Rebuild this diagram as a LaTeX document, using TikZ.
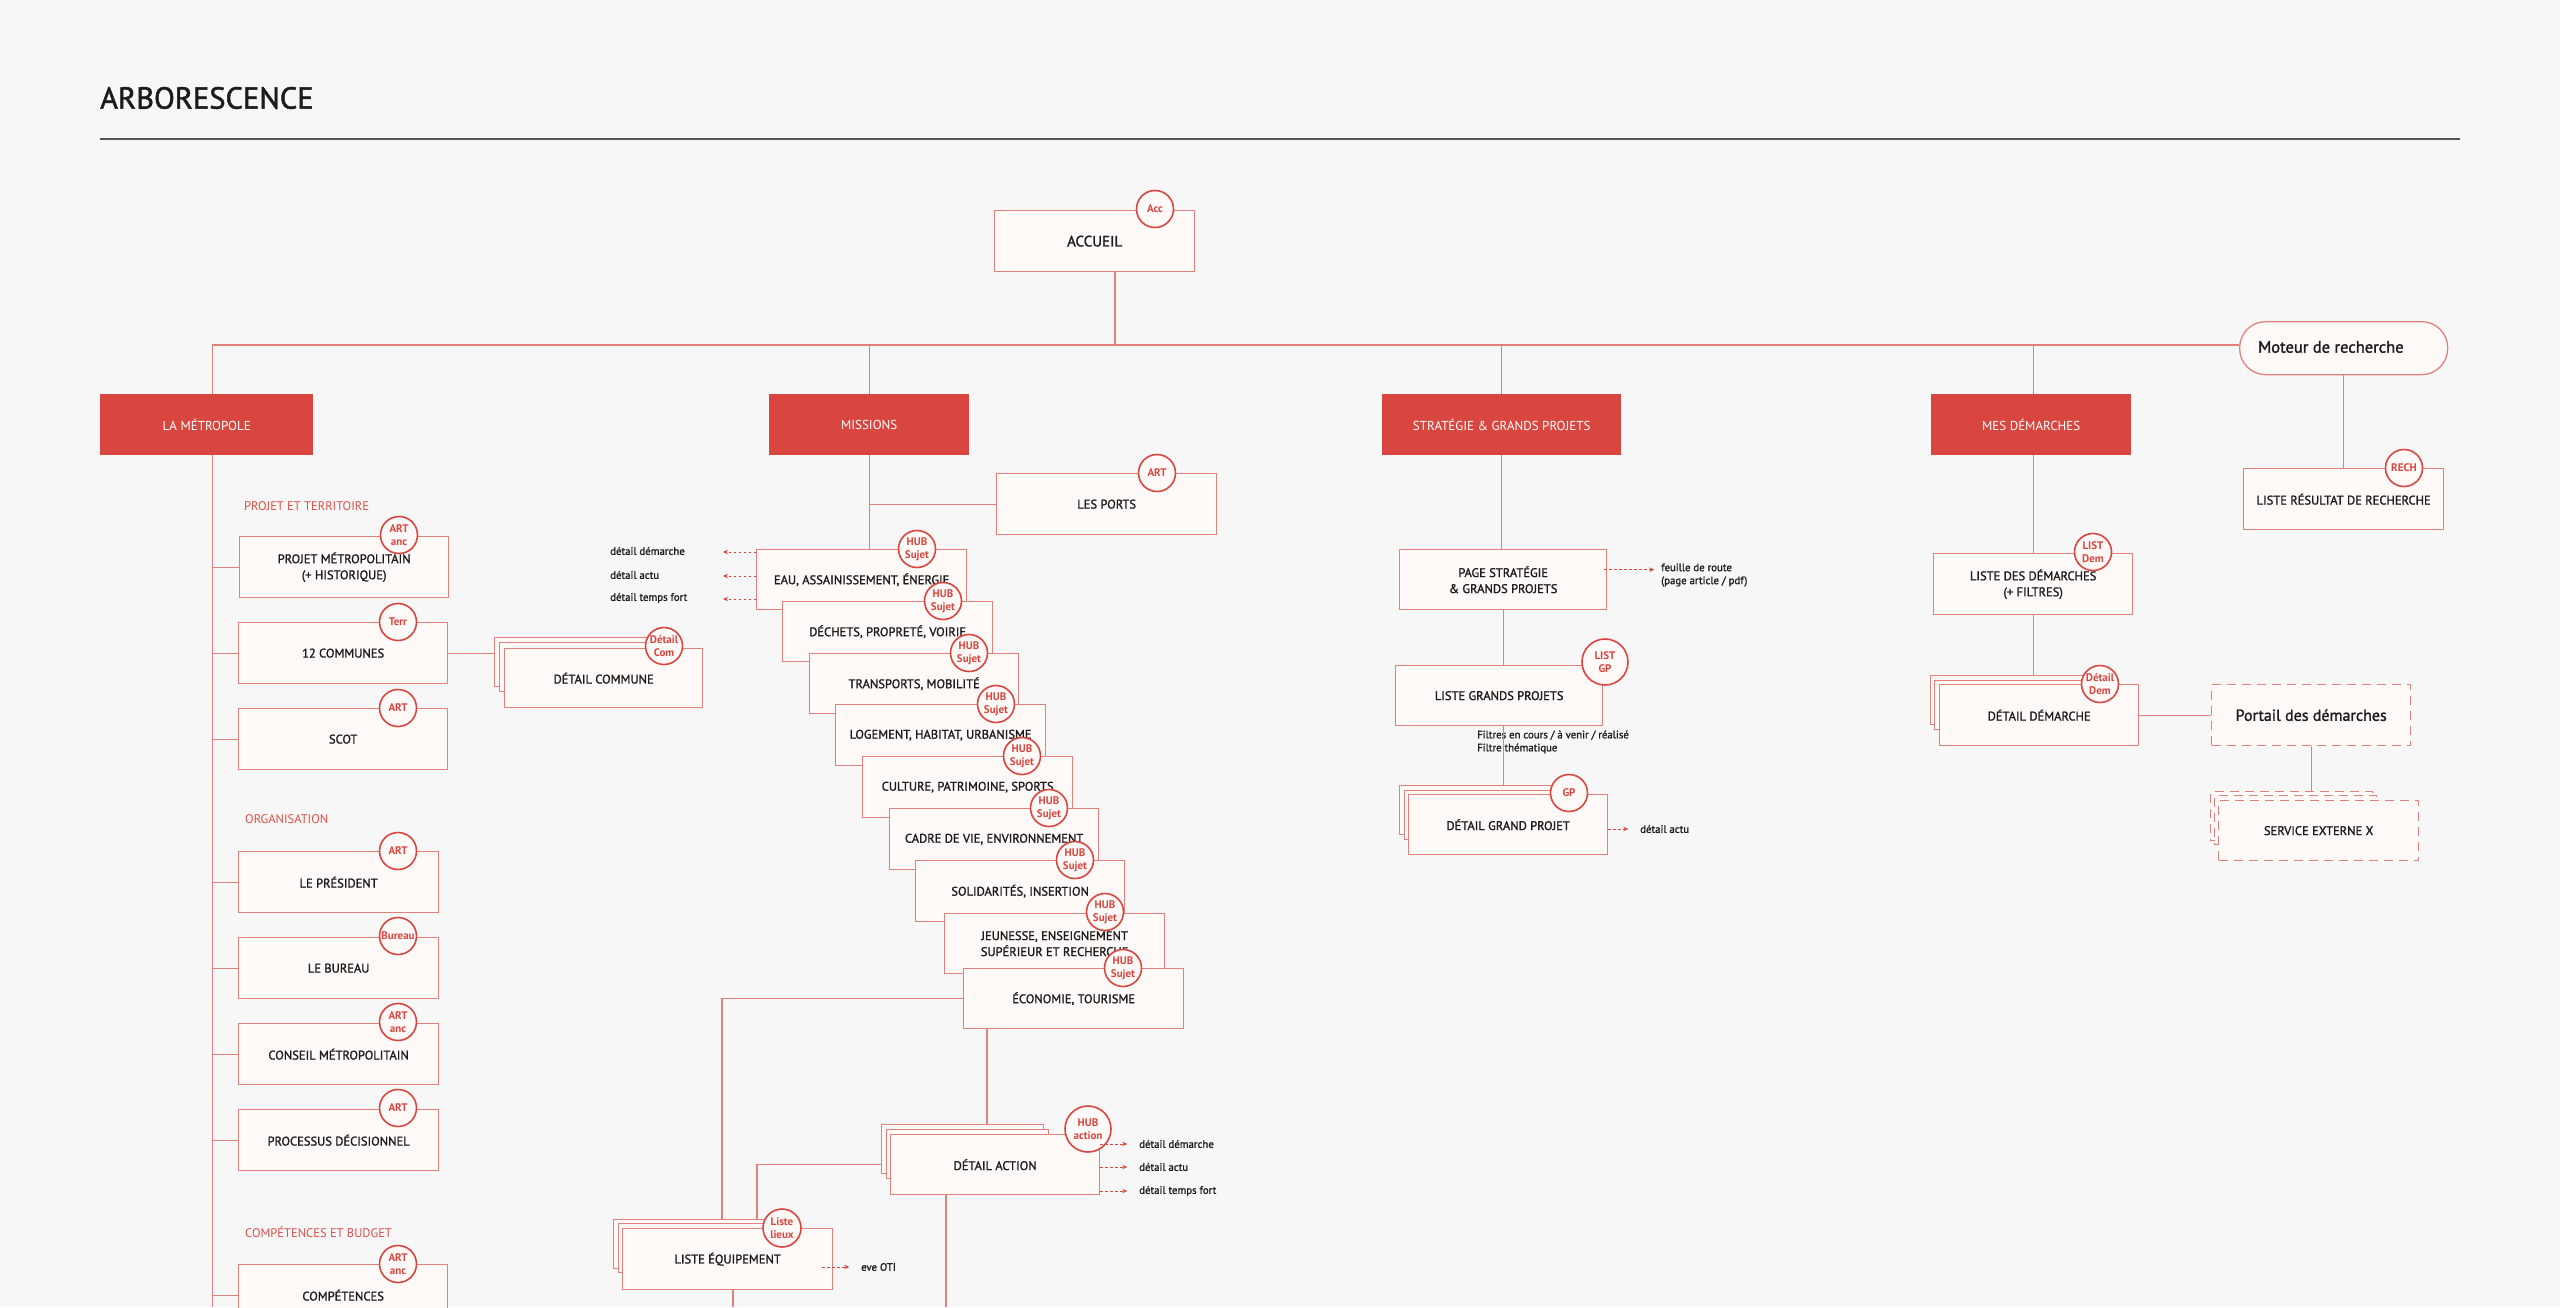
\documentclass[tikz,border=0pt]{standalone}
\usepackage{fontspec}
\setmainfont{PT Sans}
\newfontfamily\medf[FakeBold=1.4]{PT Sans}
\newfontfamily\medt[FakeBold=1.6]{PT Sans}
\usetikzlibrary{calc,arrows.meta}
\definecolor{bgc}{HTML}{F7F7F7}
\definecolor{hred}{HTML}{D9463F}
\definecolor{lred}{HTML}{E2807B}
\definecolor{bfill}{HTML}{FFF9F8}
\definecolor{sred}{HTML}{DF4F49}
\definecolor{ink}{HTML}{1C1C1C}
\definecolor{rulegray}{HTML}{555555}
\newcommand{\fsz}[2]{\fontsize{#1}{#2}\selectfont}
\begin{document}
\begin{tikzpicture}[x=1pt,y=-1pt,
  pbox/.style={draw=lred, fill=bfill, line width=1.3pt, inner sep=1pt, align=center, text=ink, font=\medf\fsz{12.5}{16}, anchor=north west},
  bbox/.style={draw=lred, fill=bfill, line width=1.1pt, inner sep=0pt, anchor=north west},
  dbox/.style={pbox, dash pattern=on 9pt off 6pt},
  dbbox/.style={bbox, dash pattern=on 9pt off 6pt},
  wh/.style 2 args={minimum width=#1, minimum height=#2},
  hbox/.style={fill=hred, text=white, font=\fsz{13}{15}, inner sep=0pt, anchor=north west},
  badgetxt/.style={align=center, text=hred, font=\fsz{11}{12.8}\bfseries, inner sep=0pt},
  badge/.style={circle, draw=hred, fill=bfill, line width=1.6pt, minimum size=37pt, inner sep=0pt, label={[badgetxt]center:#1}},
  conn/.style={draw=lred, line width=1.2pt},
  darrow/.style={draw=hred, line width=0.9pt, dash pattern=on 2.5pt off 2.5pt, -{Stealth[length=5pt,width=4.5pt]}},
  annot/.style={text=ink, font=\medf\fsz{10.8}{13}, inner sep=0pt, anchor=west, align=left},
  sec/.style={text=sred, font=\fsz{12.5}{15}, inner sep=0pt, anchor=west}
]
\fill[bgc] (0,0) rectangle (2560,1307);
\useasboundingbox (0,0) rectangle (2560,1307);

% title
\node[anchor=west, inner sep=0pt, text=ink, font=\medt\fsz{30.5}{36}] (title) at (100,98) {ARBORESCENCE};
\draw[rulegray, line width=1.6pt] (100,139) -- (2460,139);

% top level
\node[pbox, wh={200}{61}, font=\medf\fsz{15}{18}] (acc) at (994,210) {ACCUEIL};
\node[badge={Acc}] (accb) at (1155,209) {};

\node[hbox, wh={213}{61}] (metro) at (100,394) {LA MÉTROPOLE};
\node[hbox, wh={200}{61}] (missions) at (769,394) {MISSIONS};
\node[hbox, wh={239}{61}] (strat) at (1382,394) {STRATÉGIE \& GRANDS PROJETS};
\node[hbox, wh={200}{61}] (mesdem) at (1931,394) {MES DÉMARCHES};
\node[draw=lred, fill=bfill, line width=1.3pt, rounded corners=26pt, anchor=north west, wh={208}{53}, inner sep=0pt] (moteur) at (2239,321) {};
\node[anchor=west, inner sep=0pt, text=ink, font=\medt\fsz{16.5}{19}] (moteurtxt) at (2258,347) {Moteur de recherche};

% LA METROPOLE column
\node[sec] (sec1) at (244,506) {PROJET ET TERRITOIRE};
\node[pbox, wh={209}{61}] (pm) at (239,536) {PROJET MÉTROPOLITAIN\\(+ HISTORIQUE)};
\node[badge={ART\\anc}] (pmb) at (399,535) {};
\node[pbox, wh={209}{61}] (c12) at (238,622) {12 COMMUNES};
\node[badge={Terr}] (c12b) at (398,622) {};
\node[pbox, wh={209}{61}] (scot) at (238,708) {SCOT};
\node[badge={ART}] (scotb) at (398,708) {};

\node[sec] (sec2) at (245,819) {ORGANISATION};
\node[pbox, wh={200}{61}] (pres) at (238,851) {LE PRÉSIDENT};
\node[badge={ART}] (presb) at (398,851) {};
\node[pbox, wh={200}{61}] (bur) at (238,937) {LE BUREAU};
\node[badge={Bureau}] (burb) at (398,936) {};
\node[pbox, wh={200}{61}] (cons) at (238,1023) {CONSEIL MÉTROPOLITAIN};
\node[badge={ART\\anc}] (consb) at (398,1022) {};
\node[pbox, wh={200}{61}] (proc) at (238,1109) {PROCESSUS DÉCISIONNEL};
\node[badge={ART}] (procb) at (398,1108) {};

\node[sec] (sec3) at (245,1232) {COMPÉTENCES ET BUDGET};
\node[pbox, wh={209}{61}] (comp) at (238,1264) {COMPÉTENCES};
\node[badge={ART\\anc}] (compb) at (398,1264) {};

% detail commune stack
\node[bbox, wh={162}{49}] (dc1) at (494,637) {};
\node[bbox, wh={162}{49}] (dc2) at (499,642) {};
\node[pbox, wh={198}{59}] (dc) at (504,648) {DÉTAIL COMMUNE};
\node[badge={Détail\\Com}] (dcb) at (664,646) {};

% MISSIONS column
\node[pbox, wh={220}{61}] (ports) at (996,473) {LES PORTS};
\node[badge={ART}] (portsb) at (1157,473) {};

\node[pbox, wh={210}{60}] (eau) at (756,549) {EAU, ASSAINISSEMENT, ÉNERGIE};
\node[badge={HUB\\Sujet}] (eaub) at (917,549) {};
\node[pbox, wh={210}{60}] (dech) at (782,601) {DÉCHETS, PROPRETÉ, VOIRIE};
\node[badge={HUB\\Sujet}] (dechb) at (943,601) {};
\node[pbox, wh={209}{60}] (trans) at (809,653) {TRANSPORTS, MOBILITÉ};
\node[badge={HUB\\Sujet}] (transb) at (969,653) {};
\node[pbox, wh={210}{61}] (loge) at (835,704) {LOGEMENT, HABITAT, URBANISME};
\node[badge={HUB\\Sujet}] (logeb) at (996,704) {};
\node[pbox, wh={210}{61}] (cult) at (862,756) {CULTURE, PATRIMOINE, SPORTS};
\node[badge={HUB\\Sujet}] (cultb) at (1022,756) {};
\node[pbox, wh={209}{61}] (cadre) at (889,808) {CADRE DE VIE, ENVIRONNEMENT};
\node[badge={HUB\\Sujet}] (cadreb) at (1049,808) {};
\node[pbox, wh={209}{61}] (soli) at (915,860) {SOLIDARITÉS, INSERTION};
\node[badge={HUB\\Sujet}] (solib) at (1075,860) {};
\node[pbox, wh={220}{60}] (jeun) at (944,913) {JEUNESSE, ENSEIGNEMENT\\SUPÉRIEUR ET RECHERCHE};
\node[badge={HUB\\Sujet}] (jeunb) at (1105,912) {};
\node[pbox, wh={220}{60}] (econ) at (963,968) {ÉCONOMIE, TOURISME};
\node[badge={HUB\\Sujet}] (econb) at (1123,968) {};

\node[annot] (ea1) at (610,551) {détail démarche};
\node[annot] (ea2) at (610,575) {détail actu};
\node[annot] (ea3) at (610,598) {détail temps fort};

% detail action stack
\node[bbox, wh={162}{49}] (da1) at (881,1124) {};
\node[bbox, wh={162}{49}] (da2) at (886,1129) {};
\node[pbox, wh={209}{60}] (da) at (890,1134) {DÉTAIL ACTION};
\node[badge={HUB\\action}, minimum size=46pt] (dab) at (1088,1129) {};
\node[annot] (dat1) at (1139,1144) {détail démarche};
\node[annot] (dat2) at (1139,1167) {détail actu};
\node[annot] (dat3) at (1139,1191) {détail temps fort};

% liste equipement stack
\node[bbox, wh={162}{49}] (le1) at (613,1219) {};
\node[bbox, wh={162}{49}] (le2) at (618,1223) {};
\node[pbox, wh={210}{61}] (le) at (622,1228) {LISTE ÉQUIPEMENT};
\node[badge={Liste\\lieux}, minimum size=38pt] (leb) at (782,1228) {};
\node[annot] (oti) at (861,1267) {eve OTI};

% STRATEGIE column
\node[pbox, wh={207}{60}] (ps) at (1399,549) {PAGE STRATÉGIE\\\& GRANDS PROJETS};
\node[annot] (feuille) at (1661,575) {feuille de route\\(page article / pdf)};
\node[pbox, wh={207}{60}] (lgp) at (1395,665) {LISTE GRANDS PROJETS};
\node[badge={LIST\\GP}, minimum size=46pt] (lgpb) at (1605,662) {};
\node[annot] (filt) at (1477,742) {Filtres en cours / à venir / réalisé\\Filtre thématique};
\node[bbox, wh={162}{49}] (dgp1) at (1399,785) {};
\node[bbox, wh={162}{49}] (dgp2) at (1404,790) {};
\node[pbox, wh={199}{60}] (dgp) at (1408,794) {DÉTAIL GRAND PROJET};
\node[badge={GP}] (dgpb) at (1569,793) {};
\node[annot] (gpt) at (1640,829) {détail actu};

% MES DEMARCHES column
\node[pbox, wh={199}{61}] (ld) at (1933,553) {LISTE DES DÉMARCHES\\(+ FILTRES)};
\node[badge={LIST\\Dem}] (ldb) at (2093,552) {};
\node[bbox, wh={162}{49}] (dd1) at (1930,675) {};
\node[bbox, wh={162}{49}] (dd2) at (1934,680) {};
\node[pbox, wh={199}{61}] (dd) at (1939,684) {DÉTAIL DÉMARCHE};
\node[badge={Détail\\Dem}] (ddb) at (2100,684) {};
\node[dbox, wh={199}{61}, font=\medf\fsz{16}{18}] (portail) at (2211,684) {Portail des démarches};
\node[dbbox, wh={162}{49}] (se1) at (2210,791) {};
\node[dbbox, wh={162}{49}] (se2) at (2214,795) {};
\node[dbox, wh={200}{60}] (se) at (2218,800) {SERVICE EXTERNE X};

% RECHERCHE
\node[pbox, wh={200}{61}] (rech) at (2243,468) {LISTE RÉSULTAT DE RECHERCHE};
\node[badge={RECH}] (rechb) at (2404,468) {};

% ---------- connectors ----------
\coordinate (bus) at (1115,345);
\coordinate (pbot) at (0,1307);
\coordinate (accdrop) at ($(acc.south west)+(121,0)$);
\draw[conn] (accdrop) -- (accdrop |- bus);
\coordinate (mx) at ($(metro.north)+(6,0)$);
\draw[conn] (mx) |- (bus) -- (moteur.west |- bus);
\draw[conn] (missions.north |- bus) -- (missions.north);
\draw[conn] (strat.north |- bus) -- (strat.north);
\draw[conn] (ld.north |- bus) -- (ld.north |- mesdem.north);

% metropole
\coordinate (mend) at ($(metro.south)+(6,852)$);
\draw[conn] ($(metro.south)+(6,0)$) -- (mend);
\foreach \n in {pm,c12,scot,pres,bur,cons,proc,comp}
  \draw[conn] (mend |- \n.west) -- (\n.west);
\draw[conn] (c12.east) -- (c12.east -| dc1.west);

% missions
\draw[conn] (missions.south) -- (missions.south |- eau.north);
\draw[conn] (missions.south |- ports.west) -- (ports.west);
\foreach \t in {ea1,ea2,ea3}
  \draw[darrow] ($(eau.west |- \t.east)+(0,1)$) -- ++(-33,0);
\coordinate (econdrop) at ($(econ.south west)+(24,0)$);
\draw[conn] (econdrop) -- (econdrop |- da1.north);
\coordinate (leA) at ($(le1.north west)+(109,0)$);
\draw[conn] (econ.west) -| (leA);
\coordinate (leB) at ($(le1.north west)+(144,0)$);
\draw[conn] (da1.west |- da.west) -| (leB);
\coordinate (ledrop) at ($(le.south west)+(111,0)$);
\draw[conn] (ledrop) -- (ledrop |- pbot);
\coordinate (dadrop) at ($(da.south west)+(56,0)$);
\draw[conn] (dadrop) -- (dadrop |- pbot);
\foreach \t in {dat1,dat2,dat3}
  \draw[darrow] (da.east |- \t.west) -- ++(27,0);
\coordinate (leo) at (le.east |- oti.west);
\draw[darrow] ($(leo)+(-11,0)$) -- ++(27,0);

% strategie
\draw[conn] (strat.south) -- (strat.south |- ps.north);
\draw[conn] (ps.south) -- (ps.south |- lgp.north);
\draw[conn] (ps.south |- lgp.south) -- (ps.south |- dgp1.north);
\coordinate (pso) at ($(ps.east)+(-3,-10)$);
\draw[darrow] (pso) -- ++(50,0);
\draw[darrow] (dgp.east |- gpt.west) -- ++(20,0);

% mes demarches
\draw[conn] (ld.north |- mesdem.south) -- (ld.north);
\draw[conn] (ld.south) -- (ld.south |- dd1.north);
\draw[conn] (dd.east) -- (portail.west);
\draw[conn] (portail.south) -- (portail.south |- se1.north);

% recherche
\draw[conn] (moteur.south) -- (rech.north);
\end{tikzpicture}
\end{document}
